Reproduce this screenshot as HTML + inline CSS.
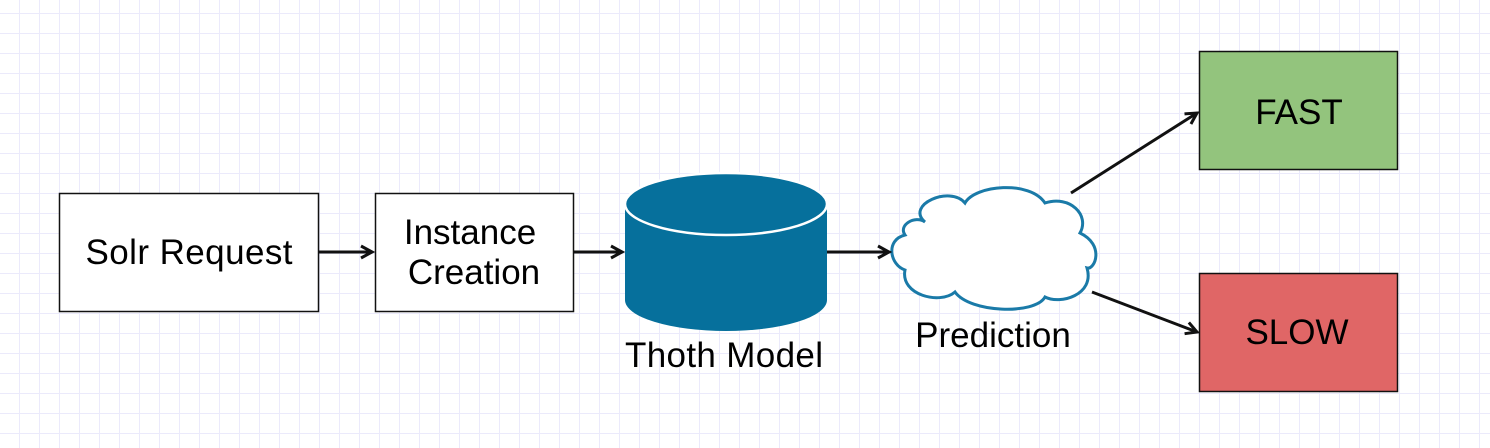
<!DOCTYPE html>
<html><head><style>
body{margin:0;width:1490px;height:448px;overflow:hidden;background:#fff;
background-image:linear-gradient(#ebeafb 1px,transparent 1px),linear-gradient(90deg,#ebeafb 1px,transparent 1px);
background-size:20px 20px;background-position:0 13px,19px 0;}
</style></head><body>
<svg width="1490" height="448" style="position:absolute;left:0;top:0" font-family="Liberation Sans, sans-serif">
<defs><marker id="a" markerWidth="16" markerHeight="16" refX="13" refY="8" orient="auto" markerUnits="userSpaceOnUse">
<path d="M2,2 L13,8 L2,14" fill="none" stroke="#111" stroke-width="3"/></marker></defs>
<rect x="59.5" y="193.5" width="259" height="118" fill="#fff" stroke="#111" stroke-width="1.5"/>
<text x="189" y="264" font-size="35" text-anchor="middle" fill="#000" textLength="207">Solr Request</text>
<rect x="375.5" y="193.5" width="198" height="118" fill="#fff" stroke="#111" stroke-width="1.5"/>
<text x="470" y="244" font-size="35" text-anchor="middle">Instance</text>
<text x="474" y="284" font-size="35" text-anchor="middle">Creation</text>
<path d="M625,204 L625,300 A101,31 0 0 0 827,300 L827,204" fill="#06709c"/>
<ellipse cx="726" cy="204" rx="101" ry="31" fill="#06709c" stroke="#fff" stroke-width="2.5"/>
<text x="724" y="367" font-size="35" text-anchor="middle" textLength="198">Thoth Model</text>
<path d="M925,222 C905,205 950,185 965,203 C975,185 1030,180 1045,203 C1070,195 1090,215 1080,233 C1105,245 1095,270 1087,268 C1095,295 1060,305 1045,297 C1035,315 970,313 955,292 C940,305 900,295 905,270 C890,265 885,240 905,235 C898,225 915,215 925,222 Z" fill="#fff" stroke="#1a7aa8" stroke-width="3"/>
<text x="993" y="347" font-size="35" text-anchor="middle">Prediction</text>
<rect x="1199.5" y="51.5" width="198" height="118" fill="#93c47d" stroke="#111" stroke-width="1.5"/>
<text x="1299" y="124" font-size="35" text-anchor="middle">FAST</text>
<rect x="1199.5" y="273.5" width="198" height="118" fill="#e06666" stroke="#111" stroke-width="1.5"/>
<text x="1297" y="344" font-size="35" text-anchor="middle">SLOW</text>
<g stroke="#111" stroke-width="3" fill="none" marker-end="url(#a)">
<line x1="319" y1="252" x2="372" y2="252"/>
<line x1="574" y1="252" x2="622" y2="252"/>
<line x1="827" y1="252" x2="889" y2="252"/>
<line x1="1071" y1="193" x2="1197" y2="113"/>
<line x1="1092" y1="292" x2="1197" y2="332"/>
</g>
</svg>
</body></html>
